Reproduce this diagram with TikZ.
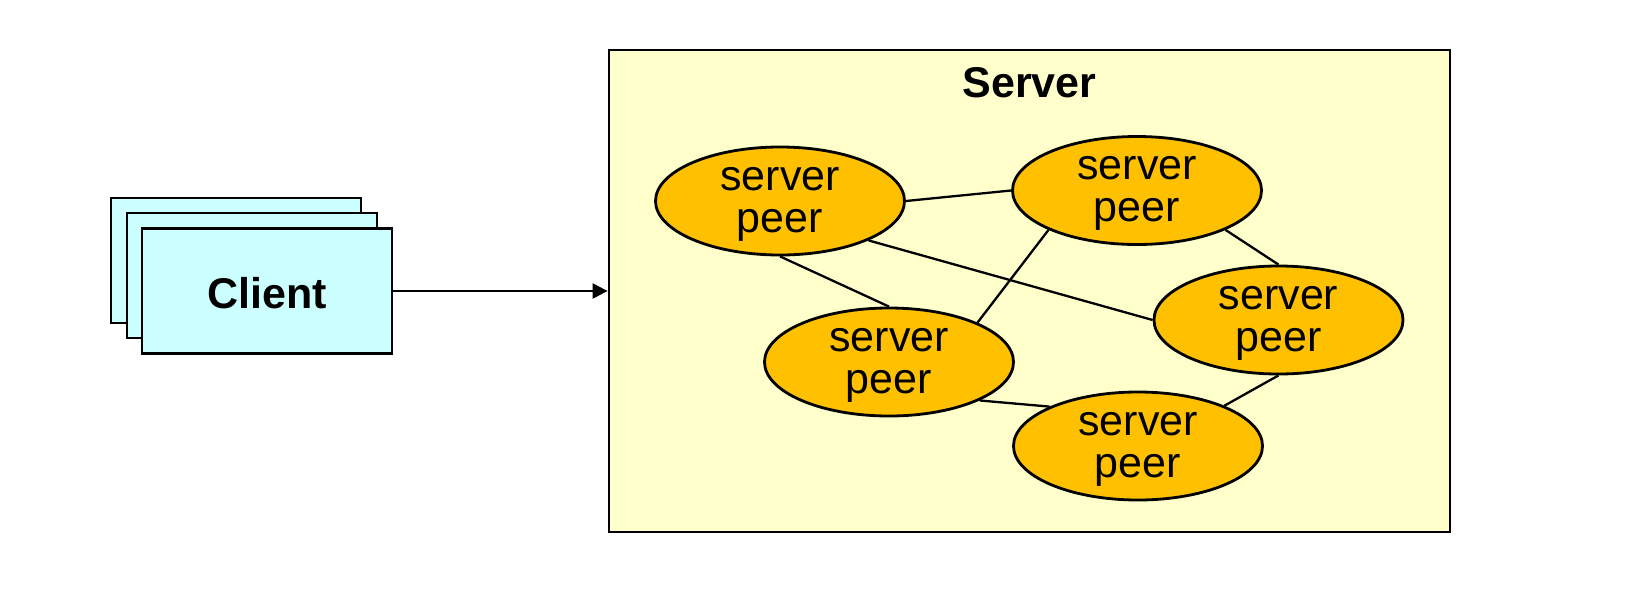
\documentclass[tikz,border=0pt]{standalone}
\usepackage{fontspec}
\setmainfont{Liberation Sans}
\usetikzlibrary{shapes.geometric,arrows.meta}
\definecolor{clientfill}{HTML}{CCFFFF}
\definecolor{serverfill}{HTML}{FFFFCC}
\definecolor{peerfill}{HTML}{FFC000}
\begin{document}
\begin{tikzpicture}[x=1pt,y=-1pt,
  clientbox/.style={draw=black,line width=2.8pt,fill=clientfill,
    minimum width=250pt,minimum height=125pt,inner sep=0pt},
  serverbox/.style={draw=black,line width=2.8pt,fill=serverfill,
    minimum width=841pt,minimum height=482pt,inner sep=0pt},
  peer/.style={ellipse,draw=black,line width=2.8pt,fill=peerfill,
    minimum width=249pt,minimum height=108pt,inner sep=0pt,align=center,
    text height=62pt,text depth=0pt,
    font=\fontsize{43}{42}\selectfont},
  boldlabel/.style={font=\fontsize{43}{41}\selectfont\bfseries},
  link/.style={draw=black,line width=2.3pt},
  arrow/.style={draw=black,line width=2.3pt,-{Triangle[length=15pt,width=15pt]}}]
\useasboundingbox (0,0) rectangle (1646,592);

% stacked client boxes
\node[clientbox] (c1) at (236,260.5) {};
\node[clientbox] (c2) at (252,275.5) {};
\node[clientbox,boldlabel,text height=34pt,text depth=0pt] (c3) at (267,291) {Client};

% server container
\node[serverbox] (server) at (1029.5,291) {};
\node[boldlabel] (title) at (1029.5,83) {Server};

% server peers
\node[peer] (p1) at (780,201) {server\\peer};
\node[peer] (p2) at (1137,190.5) {server\\peer};
\node[peer] (p3) at (889,362) {server\\peer};
\node[peer] (p4) at (1278.5,320) {server\\peer};
\node[peer] (p5) at (1138,446) {server\\peer};

% peer links
\draw[link] (p1.east) -- (p2.west);
\draw[link] (p1.-24.5) -- (p4.west);
\draw[link] (p1.south) -- (p3.north);
\draw[link] (p2.-156) -- (p3.24);
\draw[link] (p2.-24) -- (p4.north);
\draw[link] (p3.-23) -- (p5.156);
\draw[link] (p4.south) -- (p5.25);

% client request
\draw[arrow] (c3.east) -- (c3.east -| server.west);
\end{tikzpicture}
\end{document}
